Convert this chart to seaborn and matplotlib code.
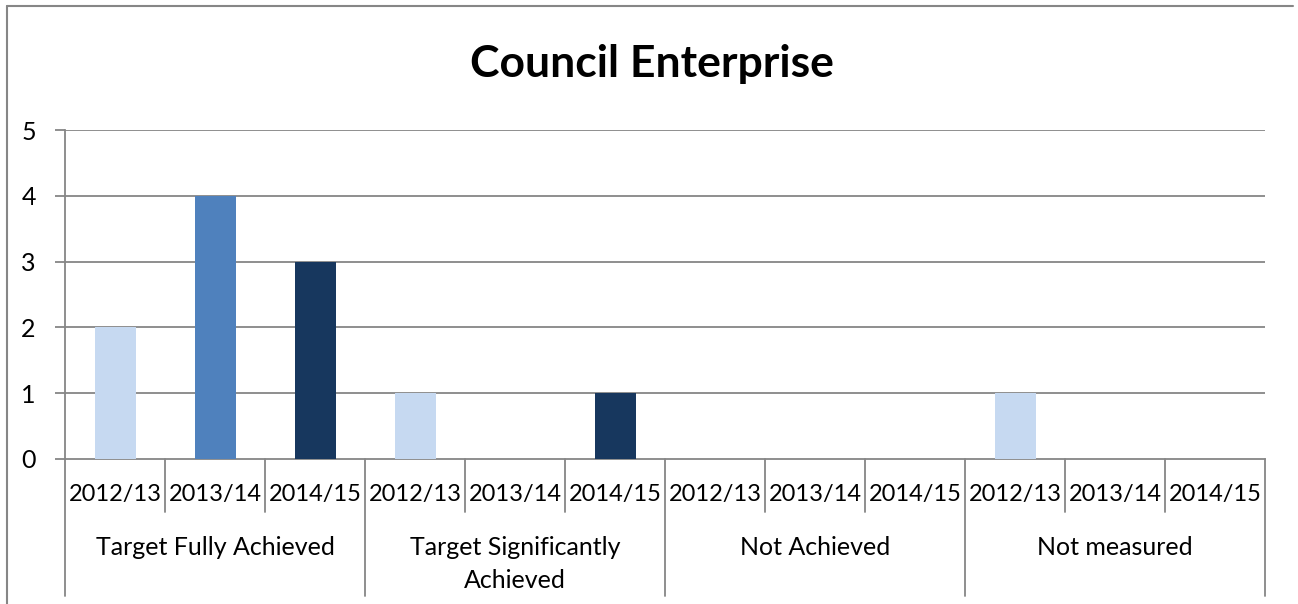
import matplotlib
matplotlib.use("Agg")
import matplotlib.pyplot as plt
import matplotlib.transforms as mtransforms
from matplotlib.lines import Line2D
import seaborn as sns
import pandas as pd

title = "Council Enterprise"
groups = ["Target Fully Achieved", "Target Significantly\nAchieved", "Not Achieved", "Not measured"]
years = ["2012/13", "2013/14", "2014/15"]
vals_2012 = [2, 1, 0, 1]
vals_2013 = [4, 0, 0, 0]
vals_2014 = [3, 1, 0, 0]
colors = ["#C6D9F1", "#4F81BD", "#17375E"]
y_ticks = [0, 1, 2, 3, 4, 5]

series = {"2012/13": vals_2012, "2013/14": vals_2013, "2014/15": vals_2014}
rows = []
for gi, g in enumerate(groups):
    for y in years:
        rows.append({"slot": f"{gi}|{y}", "group": g, "year": y, "value": series[y][gi]})
df = pd.DataFrame(rows)
order = list(df["slot"])

sns.set_theme(style="white")
plt.rcParams["font.family"] = ["Lato", "DejaVu Sans"]

W, H = 1298, 604
fig = plt.figure(figsize=(W / 100, H / 100), dpi=100)
ax = fig.add_axes([65 / W, 1 - 459 / H, 1200 / W, 329 / H])

sns.barplot(data=df, x="slot", y="value", hue="year", order=order, hue_order=years,
            palette=colors, dodge=False, width=0.41, ax=ax, legend=False,
            saturation=1, linewidth=0, zorder=3)

grid_c = "#868686"
ax.set_xlim(-0.5, len(order) - 0.5)
ax.set_ylim(0, 5)
ax.set_yticks(y_ticks)
ax.set_yticklabels([str(t) for t in y_ticks], fontsize=18, color="black")
ax.tick_params(axis="y", length=7, width=1.3, color=grid_c, pad=14, left=True)
ax.set_xticks([])
ax.set_xlabel("")
ax.set_ylabel("")
for t in y_ticks[1:]:
    ax.axhline(t, color=grid_c, lw=1.3, zorder=1)
for s in ["top", "right"]:
    ax.spines[s].set_visible(False)
ax.spines["left"].set_color(grid_c)
ax.spines["left"].set_linewidth(1.3)
ax.spines["bottom"].set_color(grid_c)
ax.spines["bottom"].set_linewidth(1.3)

trans = mtransforms.blended_transform_factory(ax.transData, ax.transAxes)
ph = 329.0
for k in range(len(order) + 1):
    xb = k - 0.5
    if k % 3 == 0:
        y0 = (459 - 596) / ph
    else:
        y0 = (459 - 512) / ph
    ax.add_line(Line2D([xb, xb], [0, y0], transform=trans, color=grid_c, lw=1.3, clip_on=False))

for i, s in enumerate(order):
    ax.text(i, (459 - 494) / ph, s.split("|")[1], transform=trans, ha="center", va="center",
            fontsize=17, color="black")
for gi, g in enumerate(groups):
    ax.text(gi * 3 + 1, (459 - 536) / ph, g, transform=trans, ha="center", va="top",
            fontsize=18, color="black", linespacing=1.5)

fig.text(652 / W, 1 - 64 / H, title, ha="center", va="center", fontsize=32, fontweight="bold",
         color="black")

# chart border
fig.add_artist(Line2D([7 / W, 7 / W], [0, 1 - 6 / H], transform=fig.transFigure, color=grid_c, lw=1.5))
fig.add_artist(Line2D([7 / W, 1293 / W], [1 - 6 / H, 1 - 6 / H], transform=fig.transFigure, color=grid_c, lw=1.5))

fig.savefig("out.png", dpi=100)
